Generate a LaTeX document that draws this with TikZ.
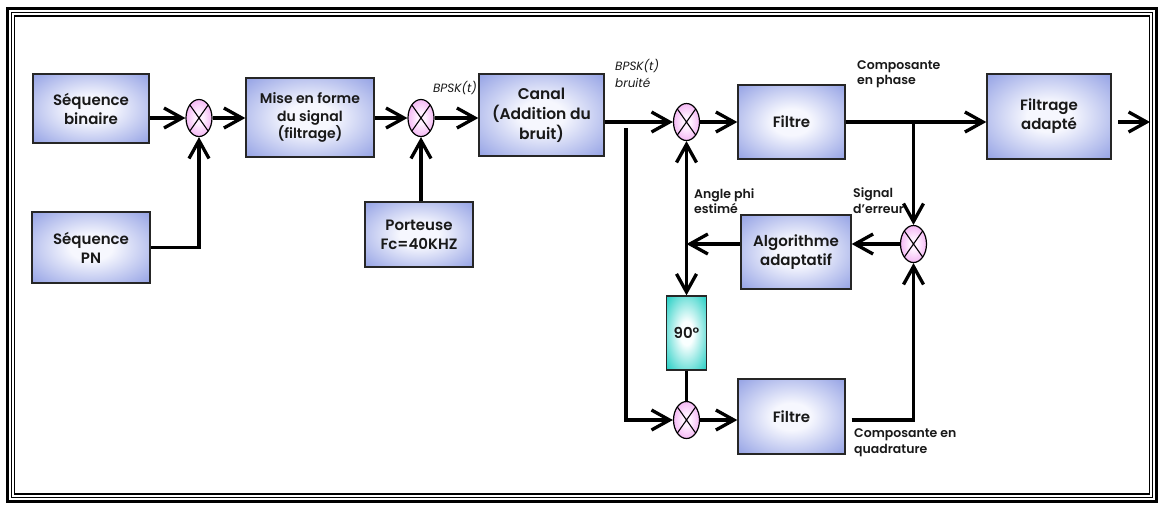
\documentclass[tikz,border=0pt]{standalone}
\usepackage{fontspec}
\setmainfont{Poppins}[UprightFont=* SemiBold, ItalicFont=* Italic]
\usetikzlibrary{arrows.meta,shapes.geometric}

\definecolor{boxout}{RGB}{146,160,228}
\definecolor{boxin}{RGB}{246,247,254}
\definecolor{tealout}{RGB}{44,208,198}
\definecolor{tealin}{RGB}{250,255,255}
\definecolor{pinkout}{RGB}{238,150,238}
\definecolor{pinkin}{RGB}{255,240,255}

% soft glow from the centre towards the border
\pgfdeclareradialshading{blueglow}{\pgfpoint{0bp}{0bp}}{color(0bp)=(boxin); color(9bp)=(boxin); color(36bp)=(boxout); color(50bp)=(boxout)}
\pgfdeclareradialshading{tealglow}{\pgfpoint{0bp}{0bp}}{color(0bp)=(tealin); color(8bp)=(tealin); color(34bp)=(tealout); color(50bp)=(tealout)}
\pgfdeclareradialshading{pinkglow}{\pgfpoint{0bp}{0bp}}{color(0bp)=(pinkin); color(8bp)=(pinkin); color(36bp)=(pinkout); color(50bp)=(pinkout)}

\newcommand\boxfont{\fontsize{15}{19}\selectfont}
\newcommand\lblfont{\fontsize{12.5}{15.5}\selectfont}
\newcommand\italfont{\fontsize{12}{17}\selectfont\itshape}

\tikzset{
  blk/.style={draw=black!85, line width=1.4pt, shading=blueglow, align=center,
    font=\boxfont, inner sep=2pt, text=black!90},
  mult/.style={ellipse, draw=black, line width=1.2pt, shading=pinkglow,
    minimum width=26pt, minimum height=37pt, inner sep=0pt,
    path picture={\draw[line width=1.1pt]
      (path picture bounding box.north west) -- (path picture bounding box.south east)
      (path picture bounding box.north east) -- (path picture bounding box.south west);}},
  wire/.style={line width=3.3pt},
  arr/.style={wire, -{Straight Barb[length=18pt,width=20pt]}},
  lbl/.style={font=\lblfont, align=left, inner sep=0pt, text=black!90},
  ital/.style={font=\italfont, align=left, inner sep=0pt, text=black!90}
}

\begin{document}
\begin{tikzpicture}[x=1pt, y=-1pt]
\useasboundingbox (0,0) rectangle (1160,504);

% triple page frame
\draw[line width=3pt] (7.5,8.5) rectangle (1156.5,501.5);
\draw[line width=0.9pt] (11.5,12.5) rectangle (1152.5,497.5);
\draw[line width=1.6pt] (14.5,16) rectangle (1149.5,494);

% blocks
\node[blk, minimum width=116pt, minimum height=69pt] (sb) at (91,108.5) {Séquence\\binaire};
\node[blk, minimum width=118pt, minimum height=71pt] (spn) at (91,247.5) {Séquence\\PN};
\node[mult] (m1) at (199,118) {};
\node[blk, font=\fontsize{14}{17.5}\selectfont, minimum width=128pt, minimum height=79pt] (mef) at (310,117.5) {Mise en forme\\du signal\\(filtrage)};
\node[mult] (m2) at (421,118) {};
\node[blk, minimum width=108pt, minimum height=65pt] (port) at (419,234.5) {Porteuse\\Fc=40KHZ};
\node[blk, font=\fontsize{15.5}{20}\selectfont, minimum width=125pt, minimum height=82pt] (canal) at (541.5,115) {Canal\\(Addition du\\bruit)};
\node[mult] (m3) at (686.5,122) {};
\node[blk, minimum width=107pt, minimum height=74pt] (f1) at (791.5,122) {Filtre};
\node[blk, minimum width=124pt, minimum height=85pt] (fa) at (1049,116.5) {Filtrage\\adapté};
\node[mult] (m4) at (913.5,244) {};
\node[blk, minimum width=110pt, minimum height=74pt] (algo) at (796,252) {Algorithme\\adaptatif};
\node[blk, shading=tealglow, minimum width=40pt, minimum height=74pt] (ph) at (686.5,333) {90°};
\node[mult] (m5) at (686.5,420) {};
\node[blk, minimum width=107pt, minimum height=75pt] (f2) at (791.5,416.5) {Filtre};

% signal labels
\node[ital, anchor=center] (bp1) at (455,88) {BPSK(t)};
\node[ital, anchor=west] (bp2) at (615,73.5) {BPSK(t)\\bruité};
\node[lbl, anchor=west] (cph) at (857,74) {Composante\\en phase};
\node[lbl, anchor=west] (ang) at (694,201) {Angle phi\\estimé};
\node[lbl, anchor=west] (err) at (853,200.5) {Signal\\d’erreur};
\node[lbl, anchor=west] (cq) at (854,442.5) {Composante en\\quadrature};

% free ends
\coordinate (tap) at (626,128);
\coordinate (outA) at (1118,122);
\coordinate (outB) at (1150,122);

% connectors
\draw[arr] (sb.east |- m1.west) -- (m1.west);
\draw[arr] (spn.east) -| (m1.south);
\draw[arr] (m1.east) -- (mef.west |- m1.east);
\draw[arr] (mef.east |- m2.west) -- (m2.west);
\draw[arr] (m2.south |- port.north) -- (m2.south);
\draw[arr] (m2.east) -- (canal.west |- m2.east);
\draw[arr] (canal.east |- m3.west) -- (m3.west);
\draw[arr] (tap) |- (m5.west);
\draw[arr] (m3.east) -- (f1.west |- m3.east);
\draw[arr] (f1.east) -- (fa.west |- f1.east);
\draw[arr] (outA) -- (outB);
\draw[arr] (m4.north |- f1.east) -- (m4.north);
\draw[arr] (m4.west) -- (algo.east |- m4.west);
\draw[arr] (algo.west |- m4.west) -- (ph.north |- m4.west);
\draw[arr] (ph.north |- m4.west) -- (m3.south);
\draw[arr] (ph.north |- m4.west) -- (ph.north);
\draw[wire] (ph.south) -- (m5.north);
\draw[arr] (m5.east) -- (f2.west |- m5.east);
\draw[arr] ([xshift=6pt]f2.east |- m5.east) -| (m4.south);
\end{tikzpicture}
\end{document}
